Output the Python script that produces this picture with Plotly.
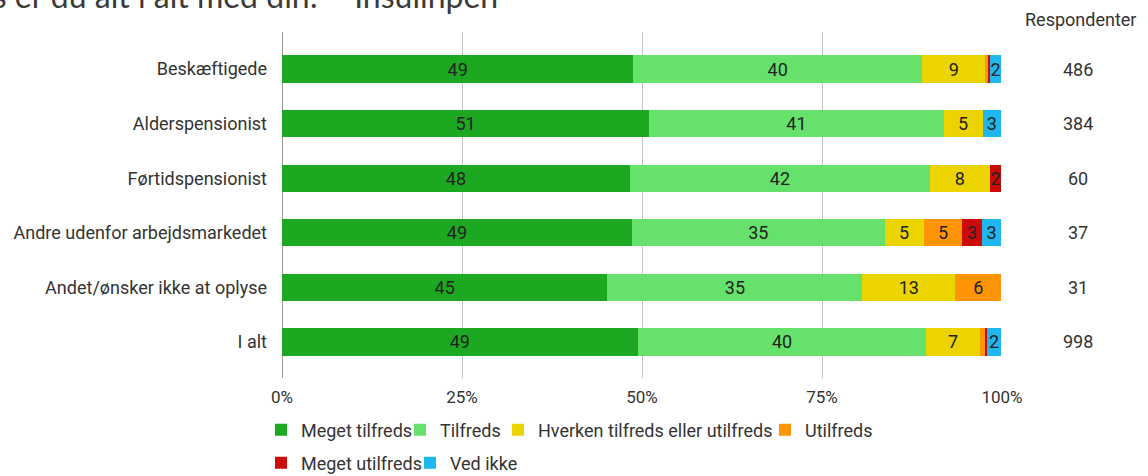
import plotly.graph_objects as go

categories = ["Beskæftigede", "Alderspensionist", "Førtidspensionist",
              "Andre udenfor arbejdsmarkedet", "Andet/ønsker ikke at oplyse", "I alt"]
respondents = [486, 384, 60, 37, 31, 998]

series_names = ["Meget tilfreds", "Tilfreds", "Hverken tilfreds eller utilfreds",
                "Utilfreds", "Meget utilfreds", "Ved ikke"]
meget_tilfreds = [48.8, 51.0, 48.3, 48.6, 45.2, 49.4]
tilfreds = [40.1, 40.9, 41.7, 35.1, 35.4, 40.1]
hverken = [8.8, 5.4, 8.3, 5.4, 12.9, 7.4]
utilfreds = [0.4, 0.0, 0.0, 5.4, 6.4, 0.7]
meget_utilfreds = [0.2, 0.0, 1.6, 2.7, 0.0, 0.3]
ved_ikke = [1.6, 2.6, 0.0, 2.7, 0.0, 2.0]
colors = ["#1ca921", "#66e26c", "#ebd400", "#ff9505", "#cc0a0a", "#1fb8ee"]

x_ticks = [0, 25, 50, 75, 100]
title_text = "Hvor tilfreds er du alt i alt med din:  - Insulinpen"
resp_header = "Respondenter"

W, H = 1148, 476
L, R, T, B = 282, 1002, 32, 378
FS = 18


def px_x(p):
    return (p - L) / (R - L)


def px_y(p):
    return (B - p) / (B - T)


all_series = [meget_tilfreds, tilfreds, hverken, utilfreds, meget_utilfreds, ved_ikke]
legend_pos = [(299, 430), (438, 430), (536, 430), (803, 430), (299, 463), (448, 463)]

fig = go.Figure()
layout_legends = {}
for i, (name, vals, col) in enumerate(zip(series_names, all_series, colors)):
    lname = "legend" if i == 0 else f"legend{i + 1}"
    texts = [f"{int(v + 0.5):d}" if v >= 1.5 else "" for v in vals]
    fig.add_trace(go.Bar(
        y=categories, x=vals, name=name, orientation="h",
        marker=dict(color=col, line=dict(width=0)),
        text=texts, textposition="inside", insidetextanchor="middle",
        textfont=dict(family="Roboto", size=FS, color="#222222"),
        constraintext="none", cliponaxis=False,
        legend=lname, showlegend=True, hoverinfo="skip",
    ))
    tx, ty = legend_pos[i]
    layout_legends[lname] = dict(
        x=px_x(tx - 38), y=px_y(ty), xanchor="left", yanchor="middle",
        orientation="h", bgcolor="rgba(0,0,0,0)", borderwidth=0,
        font=dict(family="Roboto", size=FS, color="#333333"),
        itemwidth=30, itemclick=False, itemdoubleclick=False, visible=True,
    )

annotations = []
for cat, n in zip(categories, respondents):
    annotations.append(dict(
        x=px_x(1078), xref="paper", y=cat, yref="y", text=str(n), showarrow=False,
        font=dict(family="Roboto", size=FS, color="#333333"), xanchor="center",
    ))
annotations.append(dict(
    x=px_x(1080), xref="paper", y=px_y(20), yref="paper", text=resp_header,
    showarrow=False, font=dict(family="Roboto", size=FS, color="#333333"),
    xanchor="center", yanchor="middle",
))
annotations.append(dict(
    x=px_x(500), xref="paper", y=px_y(-4), yref="paper", text=title_text,
    showarrow=False, font=dict(family="Lato", size=32, color="#3a3a3a"),
    xanchor="right", yanchor="middle",
))

fig.update_layout(
    width=W, height=H, barmode="stack", bargap=0.5, showlegend=True,
    margin=dict(l=L, r=W - R, t=T, b=H - B, pad=0, autoexpand=False),
    paper_bgcolor="white", plot_bgcolor="white",
    annotations=annotations,
    **layout_legends,
)
fig.update_xaxes(
    range=[0, 100], tickvals=x_ticks, ticktext=[f"{v}%" for v in x_ticks],
    showgrid=True, gridcolor="#c4c4c4", gridwidth=1,
    zeroline=True, zerolinecolor="#9a9a9a", zerolinewidth=1,
    showline=False, ticks="", ticklabelstandoff=7, automargin=False,
    tickfont=dict(family="Roboto", size=FS - 1, color="#333333"),
    fixedrange=True,
)
fig.update_yaxes(
    categoryorder="array", categoryarray=categories,
    range=[5.66, -0.68], showgrid=False, zeroline=False, showline=False,
    ticks="", ticklabelstandoff=14, automargin=False,
    tickfont=dict(family="Roboto", size=FS, color="#333333"),
    fixedrange=True,
)

fig.write_html(
    "out.html",
    config={"displayModeBar": False},
    post_script="document.body.style.margin='0';document.body.style.padding='0';",
)
